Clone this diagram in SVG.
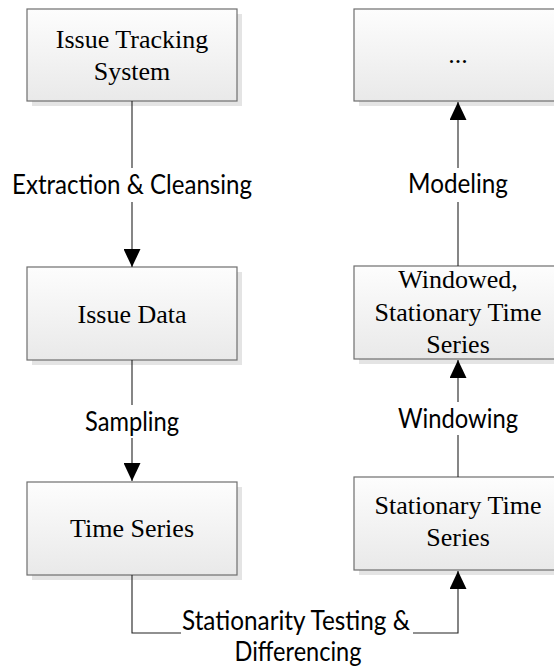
<svg xmlns="http://www.w3.org/2000/svg" width="554" height="666" viewBox="0 0 554 666">
<defs>
<linearGradient id="g" x1="0" y1="0" x2="0" y2="1">
<stop offset="0" stop-color="#fdfdfd"/>
<stop offset="1" stop-color="#e9e9e9"/>
</linearGradient>
<marker id="ah" markerUnits="userSpaceOnUse" markerWidth="18" markerHeight="17" refX="18" refY="8.5" orient="auto">
<path d="M0,0 L18,8.5 L0,17 z" fill="#000"/>
</marker>
<style>
.sh{fill:#e4e4e4}
.bx{fill:url(#g);stroke:#6e6e6e;stroke-width:1.2}
.st{font-family:"Liberation Serif","Times New Roman",serif;font-size:26px;fill:#000;text-anchor:middle}
.ss{font-family:Lato,"Liberation Sans",sans-serif;font-size:26px;fill:#000;text-anchor:middle}
.ln{fill:none;stroke:#222;stroke-width:1.1}
.bg{fill:#fff}
</style>
</defs>
<rect width="554" height="666" fill="#fff"/>
<g id="n-issue-tracking">
<rect class="sh" x="32" y="14" width="210" height="92"/>
<rect class="bx" x="27" y="9" width="210" height="92"/>
<text class="st" x="132" y="48">Issue Tracking</text>
<text class="st" x="132" y="80">System</text>
</g>
<g id="n-issue-data">
<rect class="sh" x="32" y="272" width="210" height="93"/>
<rect class="bx" x="27" y="267" width="210" height="93"/>
<text class="st" x="132" y="323">Issue Data</text>
</g>
<g id="n-time-series">
<rect class="sh" x="32" y="487" width="210" height="93"/>
<rect class="bx" x="27" y="482" width="210" height="93"/>
<text class="st" x="132" y="537">Time Series</text>
</g>
<g id="n-dots">
<rect class="sh" x="359" y="14" width="210" height="92"/>
<rect class="bx" x="354" y="9" width="210" height="92"/>
<text class="st" x="458" y="63">...</text>
</g>
<g id="n-windowed">
<rect class="sh" x="359" y="271" width="210" height="93"/>
<rect class="bx" x="354" y="266" width="210" height="93"/>
<text class="st" x="458" y="288">Windowed,</text>
<text class="st" x="458" y="321">Stationary Time</text>
<text class="st" x="458" y="353">Series</text>
</g>
<g id="n-stationary">
<rect class="sh" x="359" y="482" width="210" height="93"/>
<rect class="bx" x="354" y="477" width="210" height="93"/>
<text class="st" x="458" y="514">Stationary Time</text>
<text class="st" x="458" y="546">Series</text>
</g>
<g id="connectors">
<path class="ln" d="M132,101 V267" marker-end="url(#ah)"/>
<path class="ln" d="M132,360 V481" marker-end="url(#ah)"/>
<path class="ln" d="M132,575 V633 H458 V571" marker-end="url(#ah)"/>
<path class="ln" d="M458,477 V360" marker-end="url(#ah)"/>
<path class="ln" d="M458,266 V102" marker-end="url(#ah)"/>
<rect class="bg" x="10" y="168" width="244" height="34"/>
<text class="ss" x="132" y="194" textLength="240" lengthAdjust="spacingAndGlyphs">Extraction &amp; Cleansing</text>
<rect class="bg" x="82" y="405" width="100" height="33"/>
<text class="ss" x="132" y="431" textLength="94" lengthAdjust="spacingAndGlyphs">Sampling</text>
<rect class="bg" x="405" y="168" width="106" height="34"/>
<text class="ss" x="458" y="193" textLength="100" lengthAdjust="spacingAndGlyphs">Modeling</text>
<rect class="bg" x="396" y="402" width="124" height="33"/>
<text class="ss" x="458" y="428" textLength="120" lengthAdjust="spacingAndGlyphs">Windowing</text>
<rect class="bg" x="181" y="606" width="232" height="60"/>
<text class="ss" x="296" y="630" textLength="228" lengthAdjust="spacingAndGlyphs">Stationarity Testing &amp;</text>
<text class="ss" x="298" y="661" textLength="127" lengthAdjust="spacingAndGlyphs">Differencing</text>
</g>
</svg>
